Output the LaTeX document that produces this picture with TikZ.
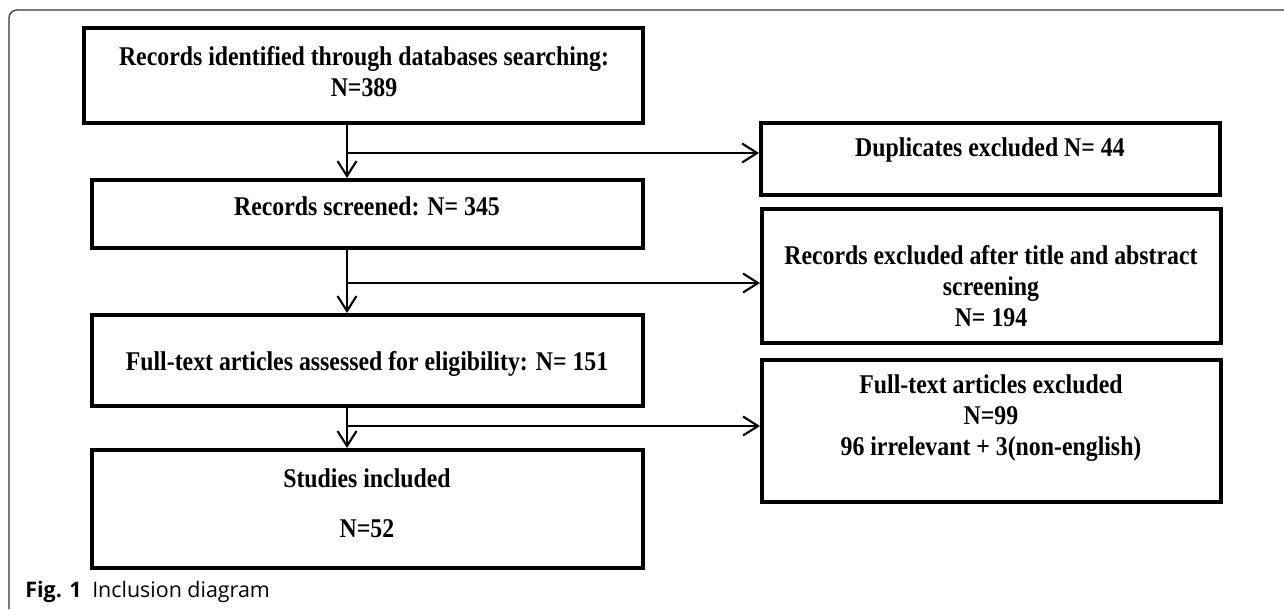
\documentclass[tikz,border=0pt]{standalone}
\usepackage{fontspec}
\setmainfont{Liberation Serif}[FakeStretch=0.88]
\newfontfamily\capfont{Open Sans}
\usetikzlibrary{arrows.meta}

\tikzset{
    box/.style={draw, line width=2.3pt, inner sep=0pt},
    txt/.style={font=\fontsize{15.4}{17.6}\selectfont\bfseries, align=center, inner sep=0pt},
    arr/.style={line width=1.2pt, -{Straight Barb[length=0.3cm, width=0.38cm]}}
}

\begin{document}
\begin{tikzpicture}[x=0.02cm, y=-0.02cm]
            \useasboundingbox (0,0) rectangle (1284,609);

            % Frame of the figure
            \draw[black!80, line width=0.75pt, rounded corners=0.16cm] (9,609) -- (9,10) -- (1284,10);

            % Left column
            \node[box, minimum width=11.18cm, minimum height=1.9cm] (ident) at (363.5,75.5) {};
            \node[txt] (identtext) at (364,72) {Records identified through databases searching:\\N=389};
            \node[box, minimum width=11.02cm, minimum height=1.36cm] (screen) at (367.5,214) {};
            \node[txt] (screentext) at (367,206) {Records screened: N= 345};
            \node[box, minimum width=11.02cm, minimum height=1.82cm] (full) at (367.5,360.5) {};
            \node[txt] (fulltext) at (367,364) {Full-text articles assessed for eligibility: N= 151};
            \node[box, minimum width=11.02cm, minimum height=2.36cm] (incl) at (367.5,509) {};
            \node[txt] (incltext) at (367,503) {Studies included\\[0.38cm]N=52};

            % Right column
            \node[box, minimum width=9.18cm, minimum height=1.44cm] (dup) at (990.5,159) {};
            \node[txt] (duptext) at (990,150) {Duplicates excluded N= 44};
            \node[box, minimum width=9.18cm, minimum height=2.68cm] (recex) at (991.5,276) {};
            \node[txt] (recextext) at (991,286) {Records excluded after title and abstract\\screening\\N= 194};
            \node[box, minimum width=9.18cm, minimum height=2.84cm] (ftex) at (991.5,431) {};
            \node[txt] (ftextext) at (991,418) {Full-text articles excluded\\N=99\\96 irrelevant + 3(non-english)};

            % Arrows down the left column
            \coordinate (spine) at (347,0);
            \draw[arr] (spine |- ident.south) -- (spine |- screen.north);
            \draw[arr] (spine |- screen.south) -- (spine |- full.north);
            \draw[arr] (spine |- full.south) -- (spine |- incl.north);

            % Arrows to the excluded boxes
            \coordinate (b1) at (347,153);
            \coordinate (b2) at (347,283);
            \coordinate (b3) at (347,426);
            \draw[arr] (b1) -- (b1 -| dup.west);
            \draw[arr] (b2) -- (b2 -| recex.west);
            \draw[arr] (b3) -- (b3 -| ftex.west);

            % Caption
            \node[anchor=base west, inner sep=0pt, font=\capfont\fontsize{12.2}{14}\selectfont] (caption) at (25,597) {\textbf{Fig. 1}\hspace{0.5em}Inclusion diagram};
        \end{tikzpicture}
\end{document}
